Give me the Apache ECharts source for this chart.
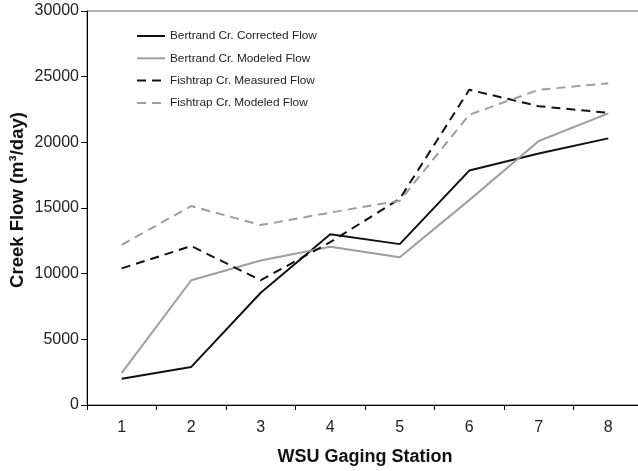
<!DOCTYPE html>
<html>
<head>
<meta charset="utf-8">
<script src="https://cdn.jsdelivr.net/npm/echarts@6/dist/echarts.min.js"></script>
<style>
  html, body { margin: 0; padding: 0; background: #fff; }
  #chart { width: 638px; height: 471px; }
</style>
</head>
<body>
<div id="chart"></div>
<script>
// WSU gaging stations along the x axis
const stations = ['1', '2', '3', '4', '5', '6', '7', '8']

// creek flow, m3/day
const bertrandCorrected = [2000, 2900, 8550, 13000, 12250, 17850, 19150, 20300]
const bertrandModeled = [2450, 9500, 11000, 12050, 11250, 15600, 20100, 22200]
const fishtrapMeasured = [10400, 12100, 9500, 12400, 15700, 24000, 22750, 22250]
const fishtrapModeled = [12200, 15150, 13700, 14650, 15550, 22100, 24000, 24500]

const font = 'Liberation Sans, Arial, sans-serif'

function lineSeries(name, data, color, type) {
  return {
    name,
    type: 'line',
    data,
    symbol: 'none',
    lineStyle: { color, width: 2, type },
    itemStyle: { color },
    animation: false
  }
}

const chart = echarts.init(document.getElementById('chart'))
chart.setOption({
  animation: false,
  textStyle: { fontFamily: font },
  grid: {
    left: 87,
    top: 11,
    width: 556,
    height: 394,
    outerBoundsMode: 'none',
    show: true,
    borderColor: '#666',
    borderWidth: 1,
    backgroundColor: 'transparent'
  },
  legend: {
    orient: 'vertical',
    left: 131,
    top: 25,
    itemWidth: 28,
    itemHeight: 14,
    itemGap: 10.3,
    itemStyle: { opacity: 0 },
    textStyle: { fontSize: 11.8, color: '#222', fontFamily: font }
  },
  xAxis: {
    type: 'category',
    data: stations,
    boundaryGap: true,
    name: 'WSU Gaging Station',
    nameLocation: 'middle',
    nameGap: 43,
    nameMoveOverlap: false,
    nameTextStyle: { fontSize: 18, fontWeight: 'bold', color: '#111', fontFamily: font },
    axisLine: { lineStyle: { color: '#000', width: 1 } },
    axisTick: { show: true, length: 5, inside: false, lineStyle: { color: '#000' } },
    axisLabel: { fontSize: 16, color: '#222', margin: 15, fontFamily: font },
    splitLine: { show: false }
  },
  yAxis: {
    type: 'value',
    min: 0,
    max: 30000,
    interval: 5000,
    name: 'Creek Flow (m³/day)',
    nameLocation: 'middle',
    nameGap: 60,
    nameMoveOverlap: false,
    nameTextStyle: { fontSize: 18.5, fontWeight: 'bold', color: '#111', fontFamily: font, padding: [0, 0, 0, 16] },
    axisLine: { show: true, lineStyle: { color: '#000', width: 1 } },
    axisTick: { show: true, length: 6, lineStyle: { color: '#000' } },
    axisLabel: { fontSize: 16, color: '#222', margin: 8, fontFamily: font, formatter: v => String(v) },
    splitLine: { show: false }
  },
  series: [
    lineSeries('Bertrand Cr. Corrected Flow', bertrandCorrected, '#111', 'solid'),
    lineSeries('Bertrand Cr. Modeled Flow', bertrandModeled, '#9e9e9e', 'solid'),
    lineSeries('Fishtrap Cr. Measured Flow', fishtrapMeasured, '#111', [9, 6]),
    lineSeries('Fishtrap Cr. Modeled Flow', fishtrapModeled, '#9e9e9e', [9, 6])
  ]
})
</script>
</body>
</html>
